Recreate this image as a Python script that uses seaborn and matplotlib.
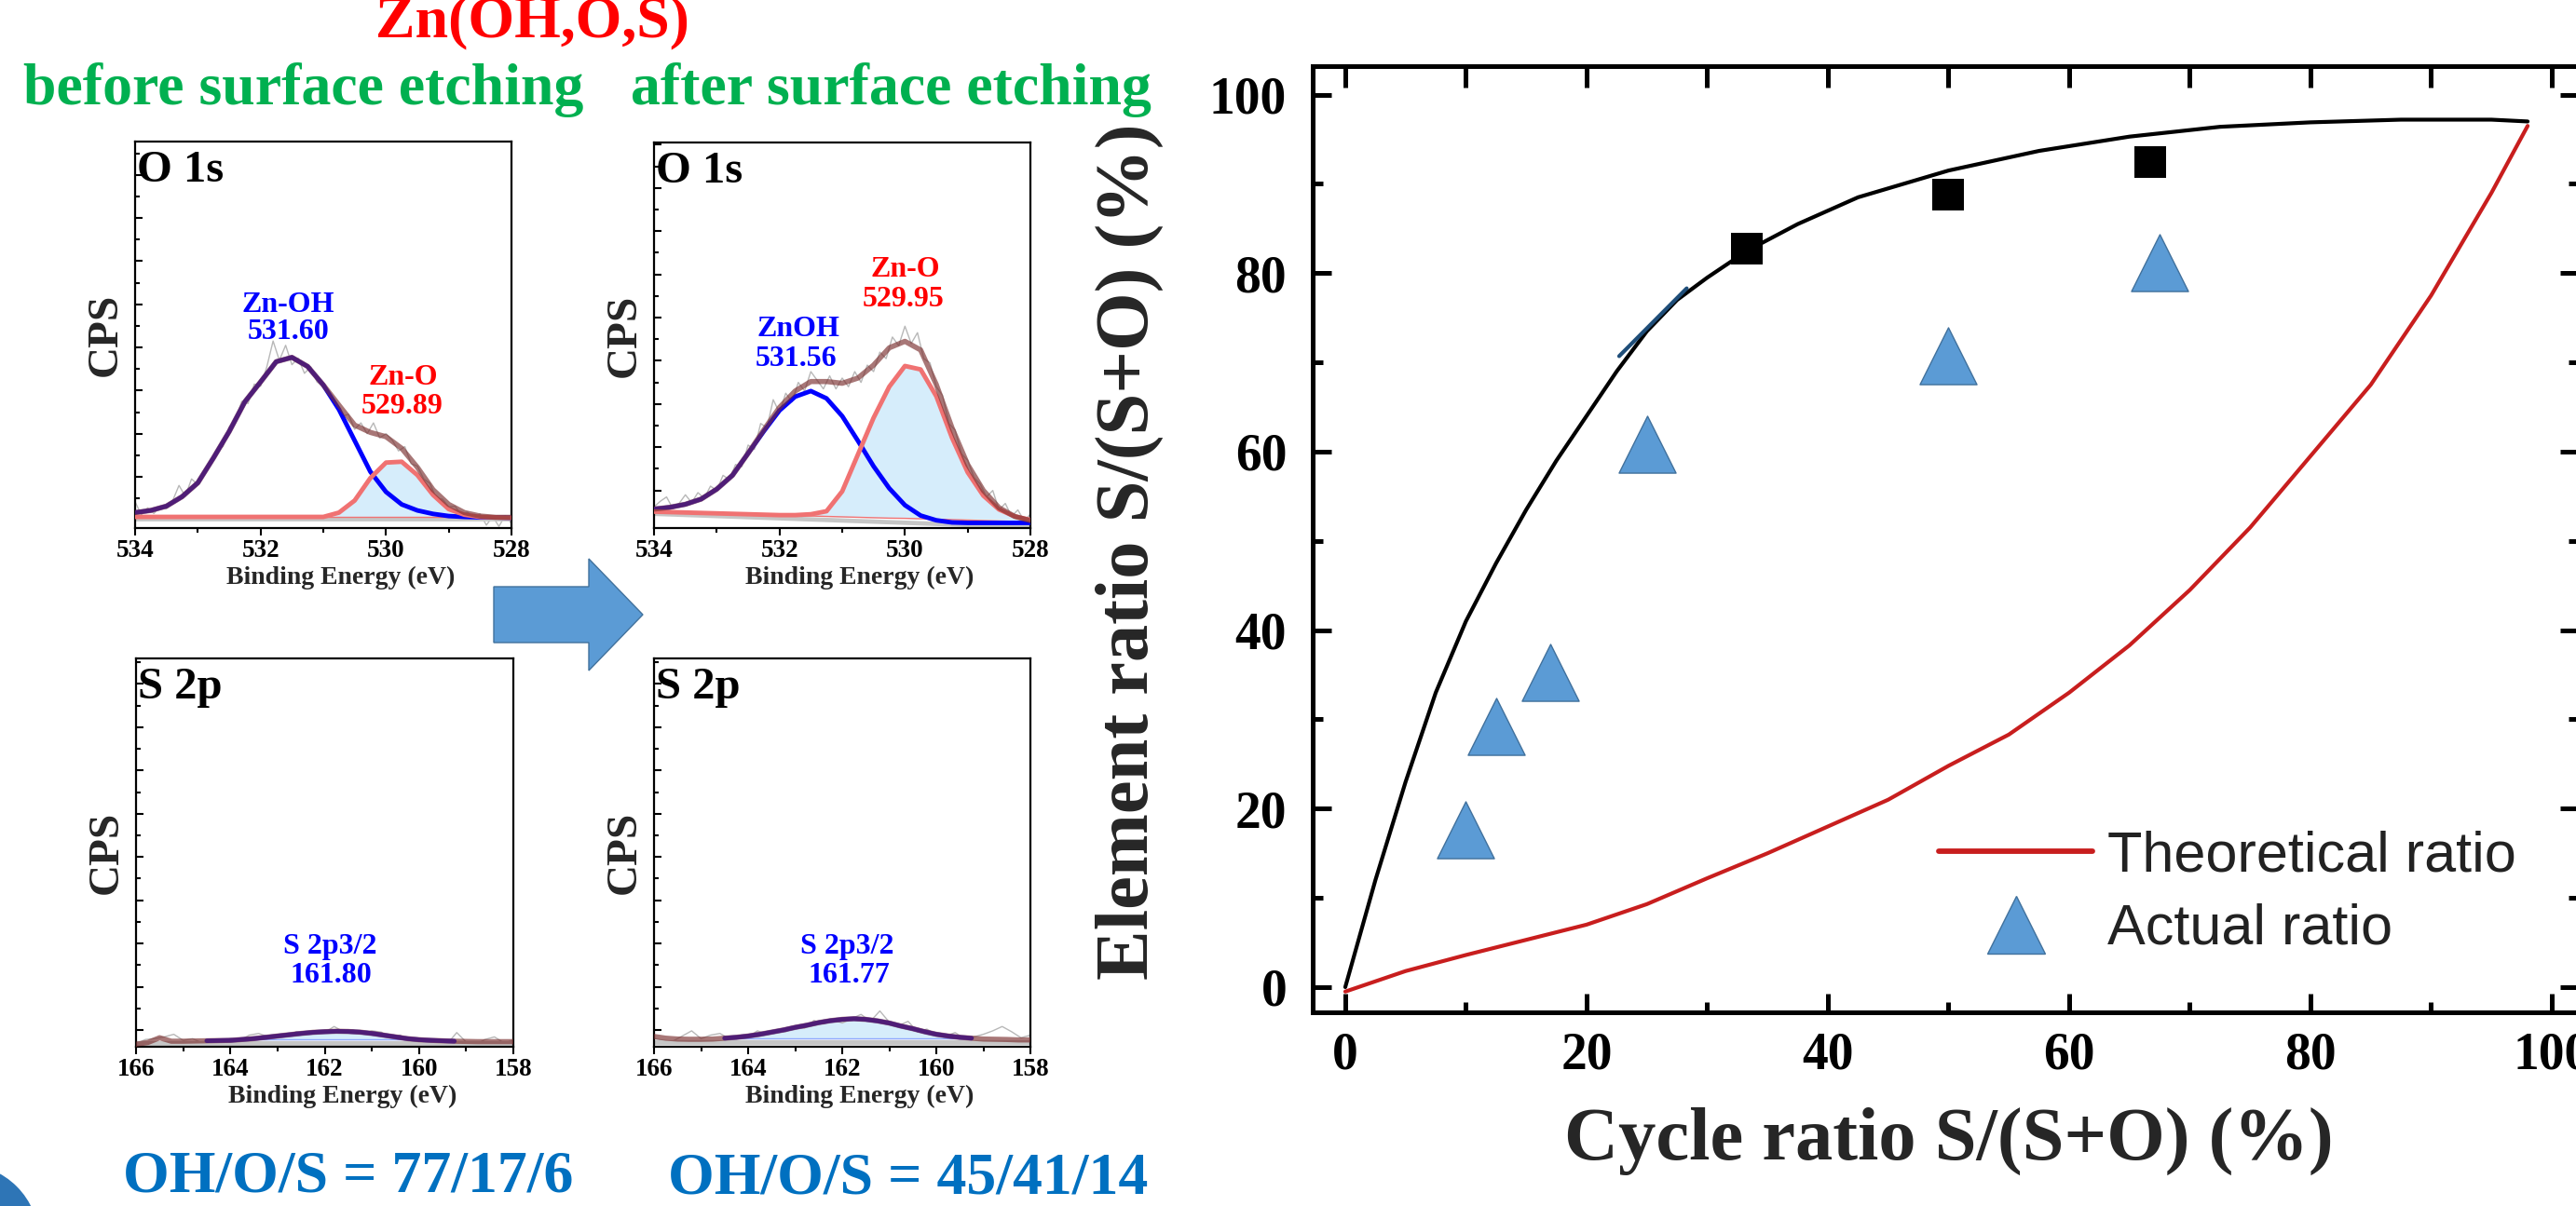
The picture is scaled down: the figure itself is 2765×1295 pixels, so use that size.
import numpy as np
import matplotlib
matplotlib.use("Agg")
import matplotlib.pyplot as plt
import seaborn as sns
from matplotlib.lines import Line2D
from matplotlib.patches import Polygon, Circle
from matplotlib.ticker import MultipleLocator, NullFormatter

# ======================= DATA =======================
# ---- O 1s fits, sampled every 0.25 eV from 534 to 528 eV ----
o1s_energy = np.linspace(534.0, 528.0, 25)
o1s_raw_energy = np.linspace(534.0, 528.0, 61)

# before surface etching
o1s_before_znoh = [0.17, 0.22, 0.32, 0.54, 0.86, 1.44, 2.05, 2.74, 3.20, 3.67, 3.77, 3.56, 3.13,
                   2.56, 1.84, 1.12, 0.65, 0.36, 0.22, 0.14, 0.09, 0.07, 0.06, 0.06, 0.05]
o1s_before_zno = [0.07, 0.07, 0.07, 0.07, 0.07, 0.07, 0.07, 0.07, 0.07, 0.07, 0.07, 0.07, 0.07,
                  0.17, 0.45, 0.97, 1.33, 1.35, 1.04, 0.58, 0.25, 0.12, 0.07, 0.06, 0.05]
o1s_before_env = [0.17, 0.22, 0.32, 0.54, 0.86, 1.44, 2.05, 2.74, 3.20, 3.67, 3.77, 3.56, 3.13,
                  2.66, 2.20, 2.03, 1.93, 1.66, 1.22, 0.70, 0.36, 0.17, 0.09, 0.06, 0.06]
o1s_before_bg_energy = [534.0, 528.0]
o1s_before_bg = [0.07, 0.07]
o1s_before_base = [0.02, 0.02]
o1s_before_raw = [0.42, 0.12, 0.28, 0.15, 0.32, 0.26, 0.45, 0.80, 0.55, 0.95,
                  0.82, 1.10, 1.28, 1.62, 1.70, 2.15, 2.30, 2.75, 2.70, 3.15,
                  3.10, 3.55, 4.15, 3.70, 4.05, 3.60, 3.75, 3.40, 3.55, 3.20,
                  3.10, 2.85, 2.70, 2.40, 2.45, 2.10, 2.25, 2.00, 2.25, 1.90,
                  2.00, 1.85, 1.60, 1.70, 1.30, 1.25, 0.95, 0.85, 0.50, 0.48,
                  0.30, 0.32, 0.12, 0.18, 0.05, 0.14, -0.12, 0.08, -0.15, 0.10, -0.08]

# after surface etching
o1s_after_znoh = [0.57, 0.61, 0.68, 0.80, 1.03, 1.35, 1.86, 2.37, 2.85, 3.17, 3.30, 3.13, 2.72,
                  2.15, 1.56, 1.05, 0.66, 0.42, 0.31, 0.26, 0.25, 0.25, 0.25, 0.25, 0.25]
o1s_after_zno = [0.51, 0.50, 0.49, 0.48, 0.47, 0.46, 0.45, 0.44, 0.43, 0.43, 0.45, 0.52, 0.98,
                 1.83, 2.68, 3.40, 3.88, 3.80, 3.18, 2.22, 1.42, 0.88, 0.56, 0.40, 0.32]
o1s_after_env = [0.57, 0.61, 0.68, 0.80, 1.03, 1.35, 1.86, 2.40, 2.92, 3.30, 3.52, 3.52, 3.48,
                 3.60, 3.90, 4.30, 4.45, 4.25, 3.45, 2.45, 1.60, 1.00, 0.60, 0.40, 0.30]
o1s_after_bg = [0.51, 0.50, 0.49, 0.48, 0.47, 0.46, 0.45, 0.44, 0.43, 0.42, 0.41, 0.40, 0.39,
                0.38, 0.37, 0.36, 0.355, 0.345, 0.335, 0.325, 0.315, 0.305, 0.295, 0.285, 0.28]
o1s_after_base_energy = [534.0, 528.0]
o1s_after_base = [0.46, 0.15]
o1s_after_raw = [0.62, 0.75, 0.85, 0.58, 0.70, 0.90, 0.72, 0.95, 0.82, 1.10,
                 1.00, 1.35, 1.25, 1.60, 1.55, 2.05, 1.95, 2.55, 2.45, 3.10,
                 2.80, 3.25, 3.05, 3.50, 3.30, 3.75, 3.55, 3.35, 3.65, 3.35,
                 3.60, 3.40, 3.75, 3.50, 3.90, 3.75, 4.20, 4.05, 4.55, 4.35,
                 4.80, 4.40, 4.65, 4.05, 3.95, 3.40, 3.20, 2.55, 2.40, 1.85,
                 1.70, 1.30, 1.15, 0.85, 1.00, 0.55, 0.70, 0.40, 0.55, 0.30, 0.45]

# ---- S 2p fits, sampled every 0.25 eV from 166 to 158 eV ----
s2p_energy = np.linspace(166.0, 158.0, 33)
s2p_comp_energy = np.linspace(164.5, 159.25, 22)
s2p_raw_energy = np.linspace(166.0, 158.0, 41)
s2p_base_energy = [166.0, 158.0]
s2p_comp_base_energy = [164.5, 159.25]

s2p_before_env = [-0.33, -0.29, -0.18, -0.26, -0.26, -0.255, -0.25, -0.245, -0.24, -0.22, -0.20,
                  -0.17, -0.14, -0.11, -0.08, -0.055, -0.04, -0.03, -0.035, -0.05, -0.08, -0.12,
                  -0.16, -0.20, -0.225, -0.24, -0.25, -0.26, -0.265, -0.27, -0.27, -0.27, -0.27]
s2p_before_comp = [-0.25, -0.245, -0.24, -0.22, -0.20, -0.17, -0.14, -0.11, -0.08, -0.055, -0.04,
                   -0.03, -0.035, -0.05, -0.08, -0.12, -0.16, -0.20, -0.225, -0.24, -0.25, -0.26]
s2p_before_comp_base = [-0.215, -0.215]
s2p_before_base = [-0.30, -0.30]
s2p_before_raw = [-0.32, -0.22, -0.20, -0.16, -0.10, -0.24, -0.20, -0.30, -0.22, -0.26,
                  -0.20, -0.24, -0.12, -0.08, -0.16, -0.10, -0.12, -0.04, -0.10, -0.02,
                  -0.06, 0.08, -0.04, 0.00, -0.08, -0.02, -0.05, -0.18, -0.12, -0.26,
                  -0.20, -0.30, -0.22, -0.32, -0.06, -0.28, -0.34, -0.22, -0.16, -0.30, -0.24]

s2p_after_env = [-0.15, -0.19, -0.21, -0.215, -0.215, -0.21, -0.19, -0.17, -0.14, -0.10, -0.05,
                 0.0, 0.06, 0.11, 0.17, 0.215, 0.245, 0.26, 0.245, 0.21, 0.16, 0.09,
                 0.03, -0.04, -0.10, -0.14, -0.17, -0.19, -0.21, -0.215, -0.22, -0.23, -0.23]
s2p_after_comp = [-0.19, -0.17, -0.14, -0.10, -0.05, 0.0, 0.06, 0.11, 0.17, 0.215, 0.245,
                  0.26, 0.245, 0.21, 0.16, 0.09, 0.03, -0.04, -0.10, -0.14, -0.17, -0.19]
s2p_after_comp_base = [-0.19, -0.19]
s2p_after_base = [-0.27, -0.27]
s2p_after_raw = [-0.20, -0.24, -0.26, -0.14, -0.02, -0.20, -0.12, -0.08, -0.20, -0.14,
                 -0.16, -0.02, -0.10, 0.00, -0.04, 0.08, 0.04, 0.22, 0.14, 0.24,
                 0.16, 0.26, 0.36, 0.20, 0.44, 0.18, 0.10, 0.20, -0.04, 0.02,
                 -0.12, -0.14, -0.06, -0.20, -0.16, -0.10, -0.02, 0.08, -0.04, -0.18, -0.12]

# ---- Element ratio vs cycle ratio ----
upper_x = [0, 2.5, 5, 7.5, 10, 12.5, 15, 17.5, 20, 22.5, 25, 27.5, 30, 33.3, 37.5, 42.5,
           50, 57.5, 65, 72.5, 80, 87.5, 95, 98]
upper_y = [0, 12, 23, 33, 41, 47.5, 53.5, 59, 64, 69, 73.5, 77, 79.5, 82.5, 85.5, 88.5,
           91.5, 93.7, 95.3, 96.4, 96.9, 97.2, 97.2, 97.0]
theory_x = [0, 5, 10, 15, 20, 25, 30, 35, 40, 45, 50, 55, 60, 65, 70, 75, 80, 85, 90, 95, 98]
theory_y = [-0.5, 1.8, 3.6, 5.3, 7.0, 9.3, 12.2, 15.0, 18.0, 21.0, 24.8, 28.3, 33.0, 38.3,
            44.5, 51.5, 59.5, 67.5, 77.5, 89.0, 96.5]
segment_x = [22.7, 28.3]
segment_y = [70.7, 78.3]
square_x = [33.3, 50.0, 66.7]
square_y = [82.7, 88.8, 92.5]
actual_x = [10.0, 12.5, 17.0, 25.0, 50.0, 67.5]
actual_y = [17.6, 29.2, 35.3, 60.8, 70.7, 81.2]

# ======================= STYLE =======================
sns.set_theme(style="ticks")
plt.rcParams.update({
    "font.family": ["Liberation Serif", "DejaVu Serif"],
    "font.weight": "bold",
    "axes.labelweight": "bold",
    "axes.edgecolor": "black",
    "axes.facecolor": "white",
    "xtick.color": "black",
    "ytick.color": "black",
    "text.color": "black",
})

W, H = 2765, 1295
fig = plt.figure(figsize=(W / 100, H / 100), dpi=100)
fig.patch.set_facecolor("white")


def rect(l, t, r, b):
    return [l / W, 1 - b / H, (r - l) / W, (b - t) / H]


C_BLUE = "#0000FF"
C_RED = "#F07272"
C_ENV = "#7A2E2E"
C_FILL = "#D6EDFB"
C_RAW = "#B8B8B8"
C_BASE = "#C6C6C6"
LW_COMP = 3.5
LW_ENV = 4.0


def line(ax, x, y, **kw):
    sns.lineplot(x=x, y=y, ax=ax, estimator=None, sort=False, legend=False, **kw)


def xps_axes(l, t, r, b, xlim, ylim, xmajor, label):
    ax = fig.add_axes(rect(l, t, r, b))
    ax.set_xlim(*xlim)
    ax.set_ylim(*ylim)
    ax.xaxis.set_major_locator(MultipleLocator(xmajor))
    ax.xaxis.set_minor_locator(MultipleLocator(xmajor / 2))
    ax.yaxis.set_major_locator(MultipleLocator(1))
    ax.yaxis.set_minor_locator(MultipleLocator(0.5))
    ax.tick_params(axis="x", which="both", direction="out", bottom=True, top=False,
                   width=1.5, labelsize=19.5, pad=3)
    ax.tick_params(axis="x", which="major", length=5.8)
    ax.tick_params(axis="x", which="minor", length=3.4)
    ax.tick_params(axis="y", which="both", direction="in", left=True, right=False,
                   labelleft=False, width=1.5)
    ax.tick_params(axis="y", which="major", length=5.8)
    ax.tick_params(axis="y", which="minor", length=3.4)
    for s in ax.spines.values():
        s.set_visible(True)
        s.set_linewidth(1.6)
        s.set_color("black")
    hpx = b - t
    wpx = r - l
    ax.set_xlabel("Binding Energy (eV)", fontsize=20, fontweight="bold")
    ax.xaxis.set_label_coords((wpx / 2 + 19) / wpx, -53 / hpx)
    ax.xaxis.label.set_va("center")
    ax.set_ylabel("CPS", fontsize=34, fontweight="bold")
    ax.yaxis.set_label_coords(-31 / wpx, 0.5)
    ax.yaxis.label.set_va("center")
    ax.text(2 / wpx, 1 - 43 / hpx, label, transform=ax.transAxes, fontsize=35,
            fontweight="bold", ha="left", va="baseline", zorder=10)
    return ax


# ---------------- O 1s before ----------------
ax1 = xps_axes(145, 152, 549, 567, (534, 528), (-0.188, 8.775), 2, "O 1s")
ax1.fill_between(o1s_energy, o1s_before_zno, o1s_before_bg[0], color=C_FILL, lw=0, zorder=1)
line(ax1, o1s_raw_energy, o1s_before_raw, color=C_RAW, lw=1.0, zorder=2)
line(ax1, o1s_before_bg_energy, o1s_before_base, color=C_BASE, lw=3.4, zorder=2)
line(ax1, o1s_before_bg_energy, o1s_before_bg, color=C_RED, lw=1.0, zorder=3)
line(ax1, o1s_energy, o1s_before_znoh, color=C_BLUE, lw=LW_COMP, zorder=4)
line(ax1, o1s_energy, o1s_before_zno, color=C_RED, lw=LW_COMP, zorder=4)
line(ax1, o1s_energy, o1s_before_env, color=C_ENV, lw=LW_ENV, alpha=0.65, zorder=5)
ax1.text(531.56, 4.99, "Zn-OH", color=C_BLUE, fontsize=23, ha="center", va="center")
ax1.text(531.56, 4.35, "531.60", color=C_BLUE, fontsize=23, ha="center", va="center")
ax1.text(529.72, 3.31, "Zn-O", color="#FF0000", fontsize=23, ha="center", va="center")
ax1.text(529.75, 2.62, "529.89", color="#FF0000", fontsize=23, ha="center", va="center")

# ---------------- O 1s after ----------------
ax2 = xps_axes(702, 153, 1106, 567, (534, 528), (0.131, 9.05), 2, "O 1s")
ax2.fill_between(o1s_energy, o1s_after_zno, o1s_after_bg, color=C_FILL, lw=0, zorder=1)
line(ax2, o1s_raw_energy, o1s_after_raw, color=C_RAW, lw=1.0, zorder=2)
line(ax2, o1s_after_base_energy, o1s_after_base, color=C_BASE, lw=3.4, zorder=2)
line(ax2, o1s_energy, o1s_after_bg, color=C_RED, lw=1.0, zorder=3)
line(ax2, o1s_energy, o1s_after_znoh, color=C_BLUE, lw=LW_COMP, zorder=4)
line(ax2, o1s_energy, o1s_after_zno, color=C_RED, lw=LW_COMP, zorder=4)
line(ax2, o1s_energy, o1s_after_env, color=C_ENV, lw=LW_ENV, alpha=0.65, zorder=5)
ax2.text(531.70, 4.74, "ZnOH", color=C_BLUE, fontsize=23, ha="center", va="center")
ax2.text(531.73, 4.05, "531.56", color=C_BLUE, fontsize=23, ha="center", va="center")
ax2.text(529.99, 6.10, "Zn-O", color="#FF0000", fontsize=23, ha="center", va="center")
ax2.text(530.02, 5.41, "529.95", color="#FF0000", fontsize=23, ha="center", va="center")

# ---------------- S 2p before ----------------
ax3 = xps_axes(146, 707, 551, 1124, (166, 158), (-0.388, 8.59), 2, "S 2p")
ax3.fill_between(s2p_comp_energy, s2p_before_comp, s2p_before_comp_base[0],
                 where=np.array(s2p_before_comp) > s2p_before_comp_base[0],
                 color=C_FILL, lw=0, zorder=1)
line(ax3, s2p_raw_energy, s2p_before_raw, color=C_RAW, lw=1.0, zorder=2)
line(ax3, s2p_base_energy, s2p_before_base, color=C_BASE, lw=3.8, zorder=2)
line(ax3, s2p_comp_base_energy, s2p_before_comp_base, color="#8FA8FF", lw=1.0, zorder=2)
line(ax3, s2p_comp_energy, s2p_before_comp, color=C_BLUE, lw=LW_COMP, zorder=4)
line(ax3, s2p_energy, s2p_before_env, color=C_ENV, lw=LW_ENV, alpha=0.65, zorder=5)
ax3.text(161.89, 1.92, "S 2p3/2", color=C_BLUE, fontsize=23, ha="center", va="center")
ax3.text(161.87, 1.25, "161.80", color=C_BLUE, fontsize=23, ha="center", va="center")

# ---------------- S 2p after ----------------
ax4 = xps_axes(702, 707, 1106, 1124, (166, 158), (-0.388, 8.59), 2, "S 2p")
ax4.fill_between(s2p_comp_energy, s2p_after_comp, s2p_after_comp_base[0],
                 color=C_FILL, lw=0, zorder=1)
line(ax4, s2p_comp_base_energy, s2p_after_comp_base, color="#8FA8FF", lw=1.0, zorder=2)
line(ax4, s2p_raw_energy, s2p_after_raw, color=C_RAW, lw=1.0, zorder=2)
line(ax4, s2p_base_energy, s2p_after_base, color=C_BASE, lw=3.8, zorder=2)
line(ax4, s2p_comp_energy, s2p_after_comp, color=C_BLUE, lw=LW_COMP, zorder=4)
line(ax4, s2p_energy, s2p_after_env, color=C_ENV, lw=LW_ENV, alpha=0.65, zorder=5)
ax4.text(161.90, 1.92, "S 2p3/2", color=C_BLUE, fontsize=23, ha="center", va="center")
ax4.text(161.86, 1.25, "161.77", color=C_BLUE, fontsize=23, ha="center", va="center")

# ---------------- Element ratio plot ----------------
axr = fig.add_axes(rect(1409, 71, 2768, 1087))
axr.set_xlim(-2.7, 102.24)
axr.set_ylim(-2.82, 103.2)
for s in axr.spines.values():
    s.set_visible(True)
    s.set_linewidth(3.6)
    s.set_color("black")
line(axr, upper_x, upper_y, color="black", lw=3.0, zorder=3)
line(axr, theory_x, theory_y, color="#C81E1E", lw=3.0, zorder=3)
line(axr, segment_x, segment_y, color="#1F4E79", lw=3.0, zorder=4)
sns.scatterplot(x=square_x, y=square_y, ax=axr, marker="s", s=25 ** 2, color="black",
                edgecolor="black", linewidth=0, legend=False, zorder=5)
sns.scatterplot(x=actual_x, y=actual_y, ax=axr, marker="^", s=44 ** 2, color="#5B9BD5",
                edgecolor="#41719C", linewidth=1.0, legend=False, zorder=5)

axr.xaxis.set_major_locator(MultipleLocator(20))
axr.xaxis.set_minor_locator(MultipleLocator(10))
axr.yaxis.set_major_locator(MultipleLocator(20))
axr.yaxis.set_minor_locator(MultipleLocator(10))
axr.tick_params(which="both", direction="in", width=3.6, top=False, right=True,
                labelright=False, labelsize=40)
axr.tick_params(axis="both", which="major", length=14.4)
axr.tick_params(axis="both", which="minor", length=8)
axr.tick_params(axis="x", which="major", pad=15)
axr.tick_params(axis="y", which="major", pad=20)
secax = axr.secondary_xaxis("top")
secax.xaxis.set_major_locator(MultipleLocator(10))
secax.xaxis.set_major_formatter(NullFormatter())
secax.tick_params(axis="x", which="major", direction="in", length=16.5, width=3.6)
secax.spines["top"].set_linewidth(3.6)

axr.set_xlabel("Cycle ratio S/(S+O) (%)", fontsize=58, fontweight="bold")
axr.xaxis.set_label_coords((2092 - 1409) / 1359, -(1225 - 1087) / 1016)
axr.xaxis.label.set_va("center")
axr.set_ylabel("Element ratio S/(S+O) (%)", fontsize=58, fontweight="bold")
axr.yaxis.set_label_coords((1212 - 1409) / 1359, (1087 - 592) / 1016)
axr.yaxis.label.set_va("center")

handles = [Line2D([], [], color="#C81E1E", lw=4.2),
           Line2D([], [], marker="^", ls="none", ms=44, mfc="#5B9BD5", mec="#41719C", mew=1.0)]
leg = axr.legend(handles, ["Theoretical ratio", "Actual ratio"], loc="center left",
                 bbox_to_anchor=(2081 / 100, (H - 959) / 100),
                 bbox_transform=fig.dpi_scale_trans, frameon=False,
                 prop={"family": "Liberation Sans", "weight": "normal", "size": 44},
                 handlelength=2.7, handletextpad=0.26, labelspacing=0.36,
                 borderpad=0, borderaxespad=0)
for t in leg.get_texts():
    t.set_color("#222222")

# ---------------- figure texts & decorations ----------------
def ftext(xpx, ypx, s, color, size):
    fig.text(xpx / W, 1 - ypx / H, s, color=color, fontsize=size, fontweight="bold",
             ha="center", va="baseline")

ftext(571, 39, "Zn(OH,O,S)", "#FF0000", 46)
ftext(326, 112, "before surface etching", "#00B050", 46)
ftext(956, 112, "after surface etching", "#00B050", 46)
ftext(374, 1279, "OH/O/S = 77/17/6", "#0070C0", 46)
ftext(975, 1281, "OH/O/S = 45/41/14", "#0070C0", 46)

arrow_px = [(530, 630), (632, 630), (632, 600), (690, 660), (632, 720), (632, 690), (530, 690)]
arrow = Polygon([(x / 100, (H - y) / 100) for x, y in arrow_px], closed=True,
                facecolor="#5B9BD5", edgecolor="#41719C", lw=1.0,
                transform=fig.dpi_scale_trans)
fig.add_artist(arrow)
corner = Circle((-40 / 100, (H - 1332) / 100), 0.82, facecolor="#2E75B6", edgecolor="none",
                transform=fig.dpi_scale_trans)
fig.add_artist(corner)

fig.savefig("out.png", dpi=100, facecolor="white")
